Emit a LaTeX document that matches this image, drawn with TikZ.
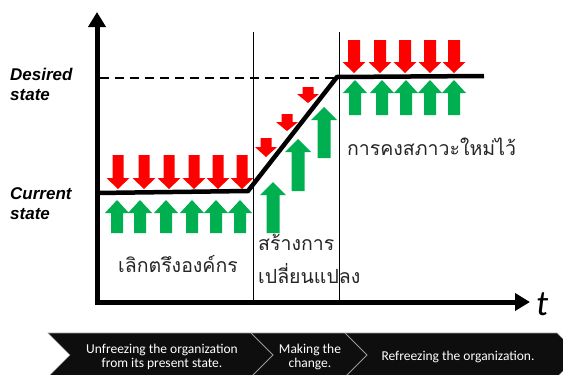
\documentclass[tikz,border=0pt]{standalone}
\usepackage{fontspec}
\setmainfont{Liberation Sans}
\newfontfamily\thaifont[Script=Thai]{Loma}
\newfontfamily\bannerfont{Carlito}
\usetikzlibrary{arrows.meta}

\definecolor{pushred}{HTML}{FF0000}
\definecolor{pushgreen}{HTML}{00B050}
\definecolor{bannerblack}{HTML}{0E0E0E}
\definecolor{bannerline}{HTML}{9A9A9A}

% block arrow pointing down: centre x, top, head start, tip, shaft half width, head half width
\newcommand{\blkdown}[6]{%
  \fill[pushred] ({#1-#5},#2) -- ({#1+#5},#2) -- ({#1+#5},#3) -- ({#1+#6},#3)
    -- (#1,#4) -- ({#1-#6},#3) -- ({#1-#5},#3) -- cycle;}
% block arrow pointing up: centre x, bottom, head start, tip, shaft half width, head half width
\newcommand{\blkup}[6]{%
  \fill[pushgreen] ({#1-#5},#2) -- ({#1+#5},#2) -- ({#1+#5},#3) -- ({#1+#6},#3)
    -- (#1,#4) -- ({#1-#6},#3) -- ({#1-#5},#3) -- cycle;}

\begin{document}
\begin{tikzpicture}[x=1pt,y=-1pt,
  axisline/.style={line width=5pt,-{Triangle[width=17pt,length=15pt]}},
  stateline/.style={line width=4.5pt,line join=miter},
  goalline/.style={line width=1.8pt,dash pattern=on 9pt off 6pt},
  phaseline/.style={line width=0.9pt},
  statelabel/.style={font=\fontsize{17}{19.5}\selectfont\bfseries\itshape,
    align=left,anchor=base west,inner sep=0pt},
  thailabel/.style={font=\thaifont\fontsize{19.5}{33}\selectfont,
    align=left,anchor=base west,inner sep=0pt,text=black!85},
  bannertext/.style={font=\bannerfont\fontsize{13.5}{14}\selectfont,
    text=white,align=center,inner sep=0pt},
]
\clip (0,0) rectangle (563,375);
\fill[white] (0,0) rectangle (563,375);

% axes
\coordinate (origin) at (97,304.5);
\coordinate (ytip) at (97,12);
\coordinate (xstart) at (94.5,302);
\coordinate (xtip) at (530,302);
\draw[axisline] (origin) -- (ytip);
\draw[axisline] (xstart) -- (xtip);
\node[font=\bannerfont\itshape\fontsize{36}{36}\selectfont,anchor=base west,inner sep=0pt]
  (tlabel) at (536,315) {t};

% phase boundaries
\coordinate (p1top) at (253,32);
\coordinate (p1bot) at (253,302);
\coordinate (p2top) at (339,32);
\coordinate (p2bot) at (339,302);
\draw[phaseline] (p1top) -- (p1bot);
\draw[phaseline] (p2top) -- (p2bot);

% desired level
\coordinate (goalstart) at (100,78);
\coordinate (goalend) at (337,78);
\draw[goalline] (goalstart) -- (goalend);

% state of the organisation over time
\coordinate (s0) at (97,193);
\coordinate (s1) at (248,191);
\coordinate (s2) at (337,77);
\coordinate (s3) at (484,76);
\draw[stateline] (s0) -- (s1) -- (s2) -- (s3);

% restraining and driving forces, unfreezing
\foreach \x in {118,144,169,194,218,242} {\blkdown{\x}{155}{178}{189}{5.5}{11.5}}
\foreach \x in {117,140,166,192,216,240} {\blkup{\x}{233}{213}{200}{6}{12}}

% forces while changing
\blkdown{266}{138}{147}{157}{5.5}{11}
\blkdown{287}{114}{122}{131}{5.5}{11}
\blkdown{308}{87}{94}{103}{5.5}{11}
\blkup{273}{233}{195}{182}{6.5}{13}
\blkup{298}{191}{152}{139}{6.5}{13}
\blkup{324}{158}{120}{107}{6.5}{13}

% forces when refreezing
\foreach \x in {354,380,405,430,454} {\blkdown{\x}{40}{62}{73}{6}{11.5}}
\foreach \x in {355,382,406,430,454} {\blkup{\x}{115}{93}{80}{6}{12}}

% level labels (anchored on the baseline of the last line)
\node[statelabel] (desired) at (10,100) {Desired\\state};
\node[statelabel] (current) at (10,219) {Current\\state};

% phase labels
\node[thailabel] (unfreeze) at (118,272) {เลิกตรึงองค์กร};
\node[thailabel] (change) at (258,283) {สร้างการ\\เปลี่ยนแปลง};
\node[thailabel] (refreeze) at (347,155) {การคงสภาวะใหม่ไว้};

% process banner
\fill[bannerblack,draw=bannerline,line width=0.6pt]
  (48,333) -- (557,333) -- (579,355) -- (557,377) -- (48,377) -- (70,355) -- cycle;
\draw[bannerline,line width=0.8pt] (251,333) -- (273,355) -- (251,377);
\draw[bannerline,line width=0.8pt] (345,333) -- (367,355) -- (345,377);
\node[bannertext,anchor=base] (b1) at (162,367) {Unfreezing the organization\\from its present state.};
\node[bannertext,anchor=base] (b2) at (310,367) {Making the\\change.};
\node[bannertext,anchor=base] (b3) at (458,360) {Refreezing the organization.};
\end{tikzpicture}
\end{document}
